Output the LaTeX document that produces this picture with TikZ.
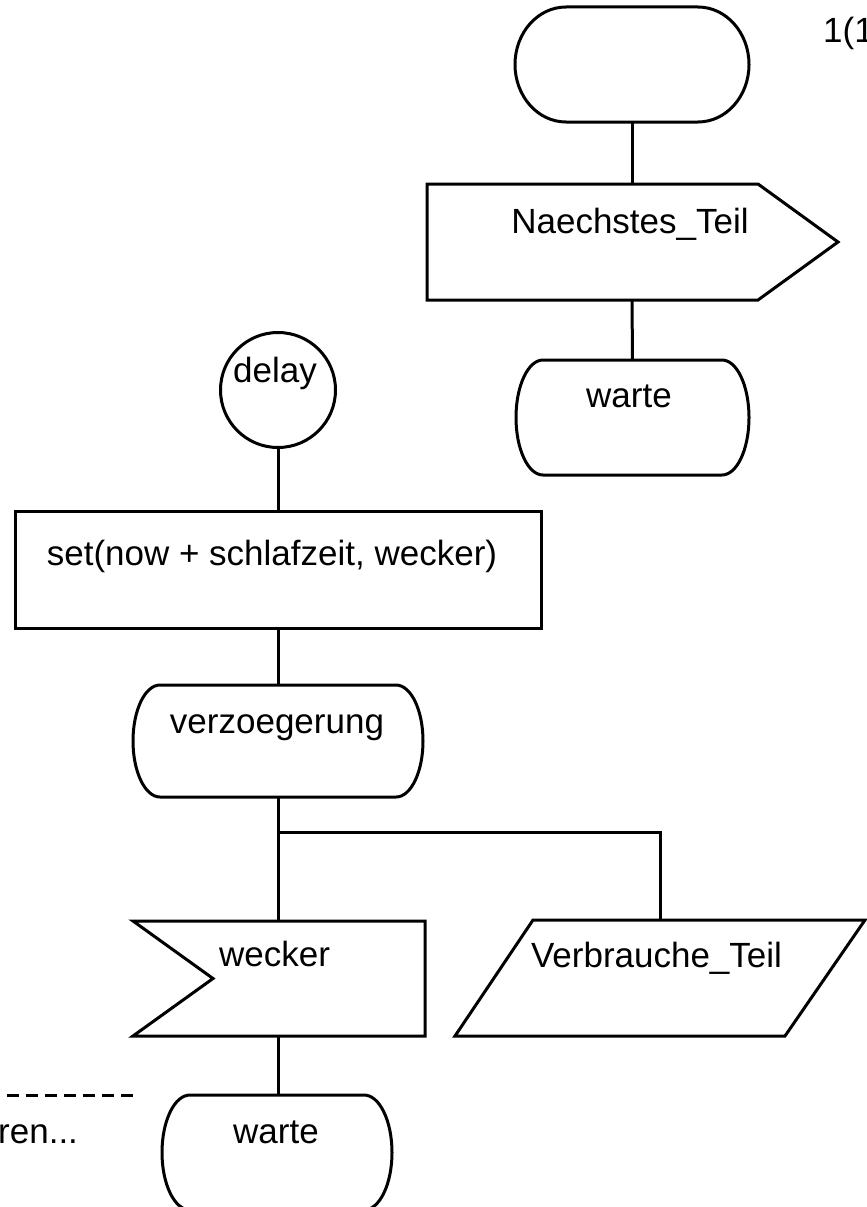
\documentclass[tikz,border=0pt]{standalone}
\usepackage{fontspec}
\setmainfont{Liberation Sans}
\usetikzlibrary{calc}

% outline of an SDL state symbol: flat top and bottom, bulging sides
\newcommand\stateoutline[3]{%
  \draw[ln] ([xshift=#2]#1.north west) -- ([xshift=-#2]#1.north east)
    arc[start angle=90,end angle=-90,x radius=#2,y radius=#3]
    -- ([xshift=#2]#1.south west)
    arc[start angle=-90,end angle=-270,x radius=#2,y radius=#3] -- cycle;}

\begin{document}
\begin{tikzpicture}[x=1pt,y=-1pt,
  ln/.style={line width=3pt,line join=miter},
  frame/.style={draw=none,rectangle,inner sep=0pt,outer sep=0pt},
  lbl/.style={inner sep=0pt,anchor=base,font=\fontsize{35}{42}\selectfont}]
\useasboundingbox (0,0) rectangle (867,1207);
\clip (0,0) rectangle (867,1207);

% page number
\node[lbl,anchor=base west] (pg) at (823,43) {1(1)};

% ---- right column: start transition ----
\node[frame,minimum width=234pt,minimum height=115pt] (start) at (632,64.5) {};
\stateoutline{start}{51pt}{57.5pt}

\node[frame,minimum width=411pt,minimum height=116pt] (out) at (632.5,242) {};
\draw[ln] (out.north west) -- ([xshift=-80pt]out.north east) -- (out.east)
  -- ([xshift=-80pt]out.south east) -- (out.south west) -- cycle;
\node[lbl] (outtxt) at (630,233) {Naechstes\_Teil};

\node[frame,minimum width=233pt,minimum height=115pt] (warteA) at (632.5,417.5) {};
\stateoutline{warteA}{27pt}{57.5pt}
\node[lbl] (warteAtxt) at (629,407) {warte};

\draw[ln] (start.south) -- (start.south |- out.north);
\draw[ln] (start.south |- out.south) -- (warteA.north);

% ---- left column: procedure delay ----
\node[circle,draw,ln,minimum size=115pt,inner sep=0pt] (delay) at (278,390) {};
\node[lbl] (delaytxt) at (275,382) {delay};

\node[rectangle,draw,ln,minimum width=526pt,minimum height=117pt,inner sep=0pt] (task) at (278,569.5) {};
\node[lbl] (tasktxt) at (272,565) {set(now + schlafzeit, wecker)};

\node[frame,minimum width=290pt,minimum height=112pt] (verz) at (278,741) {};
\stateoutline{verz}{27pt}{56pt}
\node[lbl] (verztxt) at (277,733) {verzoegerung};

\node[frame,minimum width=292pt,minimum height=115pt] (inp) at (279,978.5) {};
\draw[ln] (inp.north west) -- (inp.north east) -- (inp.south east)
  -- (inp.south west) -- ([xshift=80pt]inp.west) -- cycle;
\node[lbl] (inptxt) at (274.5,966) {wecker};

\node[frame,minimum width=410pt,minimum height=116pt] (verb) at (660,978) {};
\draw[ln] ([xshift=78pt]verb.north west) -- (verb.north east)
  -- ([xshift=-80pt]verb.south east) -- (verb.south west) -- cycle;
\node[lbl] (verbtxt) at (656.5,967) {Verbrauche\_Teil};

\node[frame,minimum width=230pt,minimum height=115pt] (warteB) at (277,1152.5) {};
\stateoutline{warteB}{28pt}{57.5pt}
\node[lbl] (warteBtxt) at (276,1143) {warte};

\coordinate (split) at (278,832);
\draw[ln] (delay.south) -- (task.north);
\draw[ln] (task.south) -- (verz.south |- verz.north);
\draw[ln] (verz.south) -- (verz.south |- inp.north);
\draw[ln] (split) -| (verb.north);
\draw[ln] (verz.south |- inp.south) -- (verz.south |- warteB.north);

% continuation marker on the left edge
\coordinate (dl) at (7,1095);
\coordinate (dr) at (133,1095);
\draw[ln,dash pattern=on 12pt off 7pt] (dl) -- (dr);
\node[lbl,anchor=base west] (cont) at (-2,1143) {ren...};
\end{tikzpicture}
\end{document}
